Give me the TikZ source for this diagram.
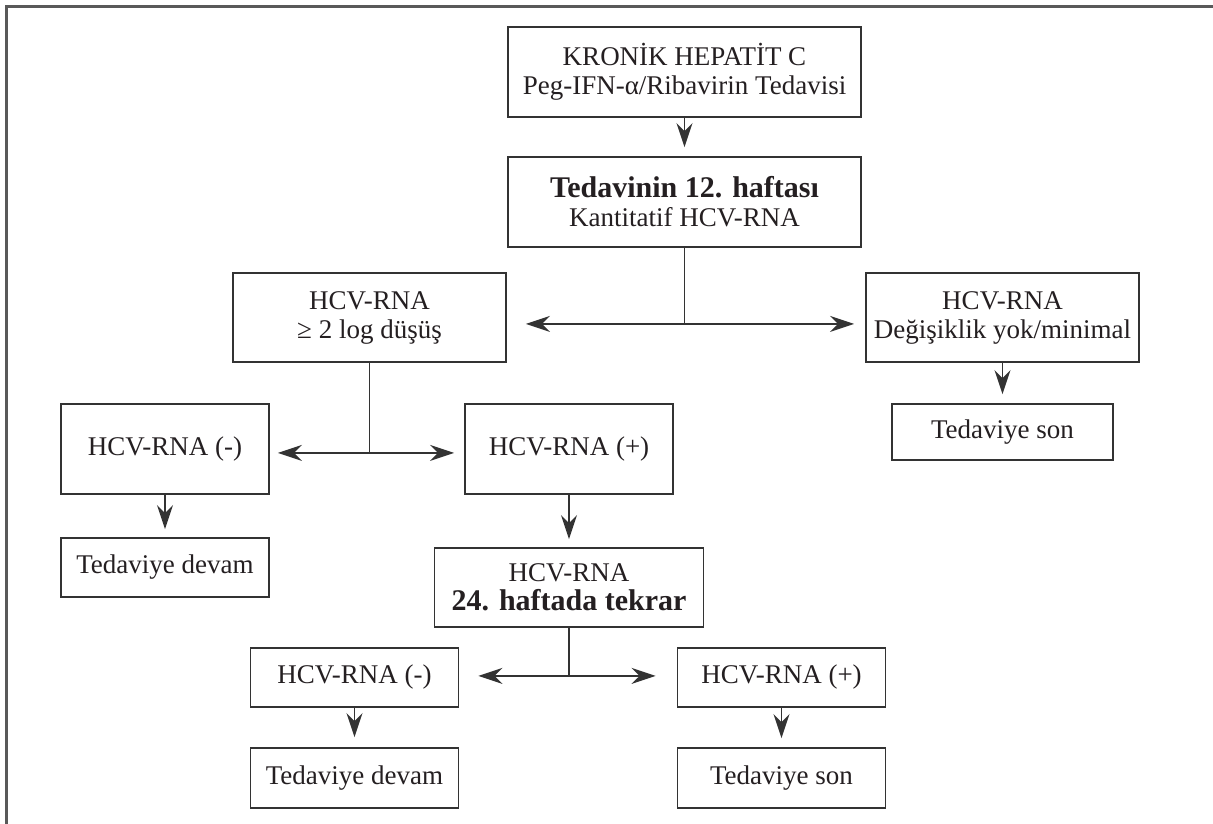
\documentclass[tikz,border=0pt]{standalone}
\usepackage{fontspec}
\setmainfont{Liberation Serif}
\usepackage{tikz}
\usetikzlibrary{arrows.meta}
\definecolor{linegray}{rgb}{0.2,0.2,0.2}
\definecolor{framegray}{rgb}{0.35,0.35,0.35}
\definecolor{inkblack}{rgb}{0.14,0.12,0.13}
\newcommand{\bfline}[1]{{\fontsize{30}{28}\selectfont\bfseries #1}}

\begin{document}
\begin{tikzpicture}[
    x=1pt, y=1pt,
    node distance=130pt,
    box/.style={rectangle, draw=linegray, line width=1.8pt, fill=white, align=center, inner sep=0pt, text=inkblack, font=\fontsize{27}{29}\selectfont},
    bigbox/.style={box, minimum width=353pt, minimum height=90pt},
    midbox/.style={box, minimum width=273pt, minimum height=89pt},
    smallbox/.style={box, minimum width=208pt, minimum height=59pt},
    arrow/.style={-{Stealth[length=24pt, width=16pt, inset=8pt]}, line width=1.8pt, draw=linegray},
    line/.style={line width=1.8pt, draw=linegray}
]
    \useasboundingbox (0,0) rectangle (1213,-824);
    \draw[line width=3pt, draw=framegray] (6.5,-824) -- (6.5,-6.5) -- (1213,-6.5);

    \node[bigbox] (kronik) at (684.5,-72) {KRONİK HEPATİT C\\Peg-IFN-α/Ribavirin Tedavisi};
    \node[bigbox, below of=kronik] (hafta12) {\bfline{Tedavinin 12. haftası}\\Kantitatif HCV-RNA};
    \node[midbox, below of=hafta12, node distance=115.5pt, xshift=-315pt] (dusus) {HCV-RNA\\≥ 2 log düşüş};
    \node[midbox, below of=hafta12, node distance=115.5pt, xshift=318pt] (degisik) {HCV-RNA\\Değişiklik yok/minimal};
    \node[box, minimum width=221pt, minimum height=56pt, below of=degisik, node distance=114.5pt] (son1) {Tedaviye son};
    \node[smallbox, minimum height=90pt, below of=dusus, node distance=131.5pt, xshift=-204.5pt] (neg1) {HCV-RNA (-)};
    \node[smallbox, minimum height=90pt, below of=dusus, node distance=131.5pt, xshift=199.5pt] (pos1) {HCV-RNA (+)};
    \node[smallbox, below of=neg1, node distance=118.5pt] (devam1) {Tedaviye devam};
    \node[box, minimum width=269pt, minimum height=79pt, below of=pos1, node distance=138.5pt] (hafta24) {HCV-RNA\\\bfline{24. haftada tekrar}};
    \node[smallbox, below of=hafta24, node distance=90pt, xshift=-214.5pt] (neg2) {HCV-RNA (-)};
    \node[smallbox, below of=hafta24, node distance=90pt, xshift=212.5pt] (pos2) {HCV-RNA (+)};
    \node[smallbox, minimum height=60pt, below of=neg2, node distance=100.5pt] (devam2) {Tedaviye devam};
    \node[smallbox, minimum height=60pt, below of=pos2, node distance=100.5pt] (son2) {Tedaviye son};

    \coordinate (j1) at ([yshift=-76pt]hafta12.south);
    \coordinate (j2) at ([yshift=-90pt]dusus.south);
    \coordinate (j3) at ([yshift=-48pt]hafta24.south);

    \draw[arrow, shorten >=9pt] (kronik) -- (hafta12);
    \draw[line] (hafta12) -- (j1);
    \draw[arrow, shorten >=19pt] (j1) -- (j1 -| dusus.east);
    \draw[arrow, shorten >=11pt] (j1) -- (j1 -| degisik.west);
    \draw[arrow, shorten >=9pt] (degisik) -- (son1);

    \draw[line] (dusus) -- (j2);
    \draw[arrow, shorten >=8pt] (j2) -- (j2 -| neg1.east);
    \draw[arrow, shorten >=10pt] (j2) -- (j2 -| pos1.west);
    \draw[arrow, shorten >=8pt] (neg1) -- (devam1);
    \draw[arrow, shorten >=8pt] (pos1) -- (pos1 |- hafta24.north);

    \draw[line] (hafta24) -- (j3);
    \draw[arrow, shorten >=19pt] (j3) -- (j3 -| neg2.east);
    \draw[arrow, shorten >=21pt] (j3) -- (j3 -| pos2.west);
    \draw[arrow, shorten >=10pt] (neg2) -- (devam2);
    \draw[arrow, shorten >=9pt] (pos2) -- (son2);
\end{tikzpicture}
\end{document}
